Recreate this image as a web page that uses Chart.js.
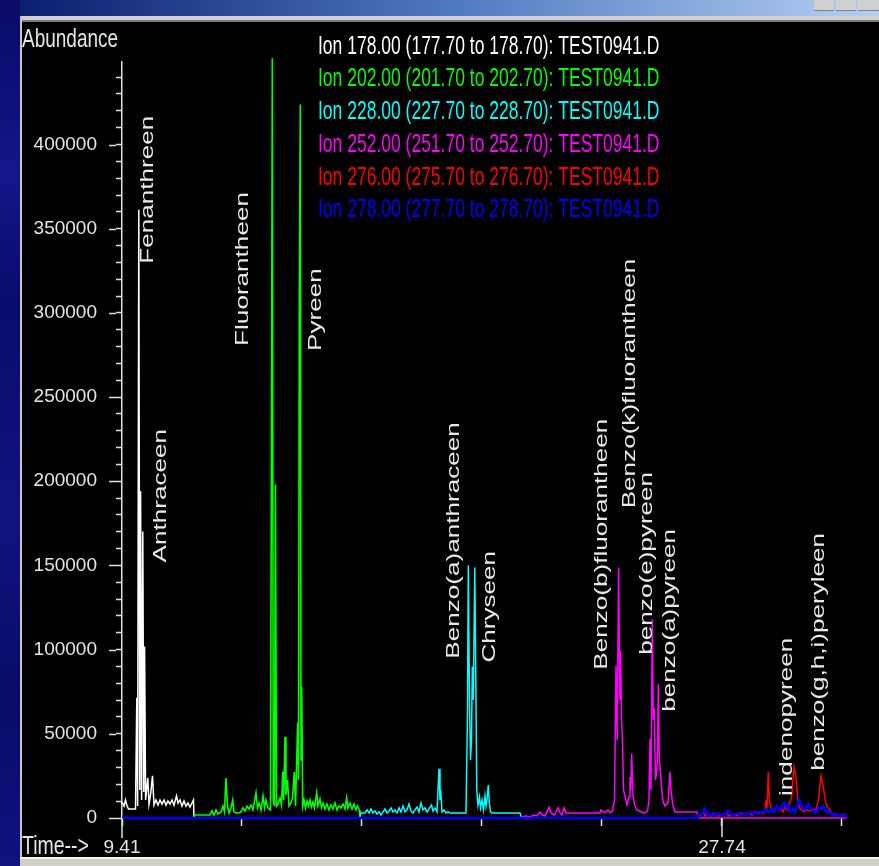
<!DOCTYPE html>
<html>
<head>
<meta charset="utf-8">
<title>TEST0941.D extracted ion chromatograms</title>
<script src="https://cdn.jsdelivr.net/npm/chart.js@4.4.1/dist/chart.umd.min.js"></script>
<style>
  html, body { margin: 0; padding: 0; background: #0c0c70; overflow: hidden; }
  canvas { display: block; }
</style>
</head>
<body>
<canvas id="tic" width="879" height="866"></canvas>
<script>
// Retention time (min) and abundance for each extracted ion
const ion178Time = [9.410, 9.471, 9.517, 9.563, 9.609, 9.822, 9.862, 9.887, 9.923, 9.954, 9.978, 10.009, 10.045, 10.076, 10.100, 10.131, 10.198, 10.235, 10.281, 10.342, 10.388, 10.449, 10.510, 10.571, 10.632, 10.693, 10.754, 10.815, 10.876, 10.938, 10.999, 11.075, 11.121, 11.182, 11.243, 11.304, 11.365, 11.426, 11.487, 11.548, 11.594, 11.610];
const ion178Abund = [9500, 7100, 10700, 7100, 5400, 5400, 71400, 7100, 361300, 16700, 194000, 10700, 170200, 15500, 101800, 10700, 23800, 8300, 13700, 25000, 7700, 10700, 7700, 10700, 8300, 10700, 7700, 10100, 8300, 10700, 7700, 13100, 8900, 10700, 7100, 10100, 7100, 8900, 6500, 8900, 10700, 0];

const ion202Time = [11.610, 11.625, 12.099, 12.160, 12.221, 12.282, 12.343, 12.435, 12.496, 12.541, 12.587, 12.633, 12.679, 12.740, 12.792, 12.832, 12.893, 12.985, 13.046, 13.107, 13.168, 13.229, 13.290, 13.351, 13.412, 13.504, 13.550, 13.595, 13.656, 13.718, 13.763, 13.809, 13.870, 13.932, 13.947, 13.977, 14.002, 14.032, 14.069, 14.099, 14.130, 14.176, 14.237, 14.283, 14.320, 14.350, 14.390, 14.420, 14.466, 14.512, 14.573, 14.619, 14.674, 14.711, 14.778, 14.802, 14.827, 14.857, 14.879, 14.900, 14.931, 14.970, 15.016, 15.062, 15.108, 15.154, 15.199, 15.245, 15.291, 15.358, 15.398, 15.459, 15.505, 15.551, 15.612, 15.673, 15.734, 15.795, 15.856, 15.917, 15.978, 16.039, 16.100, 16.161, 16.223, 16.274, 16.314, 16.376, 16.437, 16.498, 16.559, 16.605, 16.660, 16.681];
const ion202Abund = [0, 1800, 1800, 4200, 1800, 4800, 2400, 3600, 7100, 3600, 23800, 7100, 3000, 6000, 10700, 3600, 3000, 3000, 3600, 6000, 4200, 7100, 5400, 7700, 4800, 14900, 6000, 8900, 4800, 13100, 6000, 10700, 6000, 4800, 7100, 233900, 451200, 10700, 7100, 198200, 7100, 8300, 11900, 7700, 27400, 10700, 48200, 13700, 22600, 7100, 8900, 11900, 27400, 7100, 56500, 22600, 303000, 423800, 34500, 78000, 7100, 10700, 6000, 10100, 7100, 10700, 6500, 9500, 6000, 14900, 7100, 11300, 6000, 8900, 5400, 8300, 4800, 7700, 5400, 8900, 4800, 7100, 6000, 8300, 5400, 11900, 6000, 8900, 5400, 8300, 4800, 7100, 4800, 0];

const ion228Time = [16.681, 16.696, 16.834, 16.895, 16.956, 17.017, 17.078, 17.139, 17.200, 17.262, 17.323, 17.384, 17.445, 17.506, 17.567, 17.628, 17.689, 17.750, 17.812, 17.873, 17.934, 17.995, 18.056, 18.117, 18.178, 18.239, 18.300, 18.361, 18.423, 18.484, 18.545, 18.606, 18.667, 18.728, 18.789, 18.866, 18.911, 18.972, 19.034, 19.095, 19.125, 19.147, 19.186, 19.247, 19.309, 19.370, 19.431, 19.920, 19.965, 19.990, 20.026, 20.057, 20.088, 20.112, 20.143, 20.188, 20.219, 20.249, 20.286, 20.332, 20.363, 20.409, 20.454, 20.500, 20.531, 20.567, 20.601, 20.632, 20.668, 20.714, 21.569, 21.621];
const ion228Abund = [0, 3000, 3000, 4800, 3000, 5400, 3000, 4200, 2400, 3600, 1800, 3600, 5400, 3000, 4200, 6000, 3600, 4800, 3000, 6000, 3600, 7100, 3600, 4800, 8300, 4200, 3000, 4800, 6500, 3600, 8900, 4800, 6000, 3600, 5400, 7700, 4200, 6000, 3600, 29200, 10700, 16700, 3600, 4800, 3000, 3600, 3000, 3000, 61300, 150000, 70200, 34500, 46400, 89900, 70200, 148800, 83300, 16700, 7700, 12500, 6000, 10700, 4800, 13100, 7100, 11900, 19600, 8900, 3600, 3000, 3000, 0];

const ion252Time = [21.630, 21.752, 21.875, 21.997, 22.089, 22.181, 22.242, 22.333, 22.394, 22.456, 22.517, 22.608, 22.669, 22.731, 22.792, 22.853, 22.914, 22.975, 24.013, 24.044, 24.105, 24.197, 24.258, 24.319, 24.396, 24.457, 24.503, 24.539, 24.582, 24.619, 24.646, 24.671, 24.695, 24.732, 24.778, 24.839, 24.900, 24.930, 24.955, 24.982, 25.022, 25.083, 25.144, 25.266, 25.388, 25.465, 25.510, 25.541, 25.571, 25.611, 25.642, 25.669, 25.709, 25.739, 25.767, 25.794, 25.825, 25.861, 25.928, 25.999, 26.090, 26.151, 26.182, 26.203, 26.243, 26.304, 26.976, 27.007, 31.559];
const ion252Abund = [600, 1200, 600, 1800, 1200, 3600, 1800, 1200, 3600, 6500, 3000, 1800, 3600, 6000, 3000, 1800, 6000, 3000, 3000, 4800, 3600, 3600, 4800, 3000, 4200, 10700, 90500, 46400, 148800, 70200, 99400, 58300, 49400, 16700, 13100, 7700, 12500, 24400, 16700, 38100, 13100, 7100, 4800, 3600, 3000, 4200, 10700, 47000, 16700, 117900, 58300, 65500, 22600, 26800, 34500, 79800, 34500, 26800, 10700, 7100, 8900, 27400, 16700, 13100, 7700, 3600, 3600, 0, 0];

const ion276Time = [27.007, 27.022, 27.099, 27.160, 27.221, 27.312, 27.404, 27.526, 27.618, 27.740, 27.862, 27.954, 28.076, 28.198, 28.320, 28.443, 28.565, 28.657, 28.749, 28.840, 28.932, 28.993, 29.054, 29.084, 29.115, 29.155, 29.191, 29.237, 29.283, 29.359, 29.420, 29.482, 29.543, 29.604, 29.665, 29.726, 29.787, 29.870, 29.940, 30.001, 30.071, 30.123, 30.175, 30.246, 30.337, 30.429, 30.521, 30.612, 30.688, 30.765, 30.835, 30.908, 30.979, 31.040, 31.132, 31.223, 31.345, 31.468, 31.529, 31.559];
const ion276Abund = [0, 1200, 1800, 4200, 1200, 2400, 1200, 3000, 1200, 1800, 3000, 1200, 2400, 1200, 3000, 1800, 3000, 1800, 3600, 2400, 3600, 2400, 3600, 10700, 3600, 27400, 10700, 6000, 4800, 4800, 6500, 4200, 5400, 3600, 7100, 4800, 7700, 12500, 30400, 23800, 8900, 5400, 4800, 3600, 4800, 4200, 5400, 4800, 10700, 25000, 18500, 8900, 6000, 4800, 1800, 2400, 1800, 2400, 1800, 0];

const ion278Time = [9.410, 27.007, 27.022, 27.099, 27.160, 27.221, 27.282, 27.374, 27.465, 27.557, 27.649, 27.740, 27.862, 27.923, 27.984, 28.107, 28.229, 28.351, 28.473, 28.595, 28.717, 28.840, 28.962, 29.038, 29.105, 29.176, 29.267, 29.328, 29.411, 29.482, 29.543, 29.644, 29.696, 29.735, 29.787, 29.848, 29.909, 29.971, 30.032, 30.102, 30.154, 30.184, 30.246, 30.307, 30.377, 30.429, 30.521, 30.582, 30.643, 30.704, 30.765, 30.835, 30.887, 30.948, 31.040, 31.132, 31.223, 31.345, 31.468, 31.529, 31.559];
const ion278Abund = [0, 0, 1800, 2400, 3600, 5400, 2400, 1800, 3000, 1800, 2400, 1800, 3000, 4200, 2400, 1800, 3000, 1800, 2400, 3600, 2400, 3600, 3000, 4200, 5400, 3600, 4800, 3600, 7100, 4800, 6000, 8900, 6500, 7700, 4800, 3600, 5400, 3600, 7100, 10700, 7700, 6500, 4800, 6000, 8300, 6000, 4800, 3000, 4200, 6500, 5400, 7100, 4800, 3000, 3600, 2400, 1800, 1800, 1800, 1200, 0];

const ionLabels = [
  'Ion 178.00 (177.70 to 178.70): TEST0941.D',
  'Ion 202.00 (201.70 to 202.70): TEST0941.D',
  'Ion 228.00 (227.70 to 228.70): TEST0941.D',
  'Ion 252.00 (251.70 to 252.70): TEST0941.D',
  'Ion 276.00 (275.70 to 276.70): TEST0941.D',
  'Ion 278.00 (277.70 to 278.70): TEST0941.D'
];

// Axis ticks
const timeTicks = [9.41, 13.076, 16.742, 20.408, 24.074, 27.74, 31.406];
const timeTickLabels = ['9.41', '', '', '', '', '27.74', ''];
const abundanceTicks = [0, 50000, 100000, 150000, 200000, 250000, 300000, 350000, 400000];

// Peak identifications: name, retention time and the abundance where the label starts
const peakNames = ['Fenanthreen', 'Anthraceen', 'Fluorantheen', 'Pyreen', 'Benzo(a)anthraceen', 'Chryseen',
  'Benzo(b)fluorantheen', 'Benzo(k)fluorantheen', 'benzo(e)pyreen', 'benzo(a)pyreen', 'indenopyreen', 'benzo(g,h,i)peryleen'];
const peakTimes = [10.204, 10.601, 13.107, 15.337, 19.553, 20.653, 24.074, 24.930, 25.449, 26.152, 29.727, 30.704];
const peakLevels = [329200, 151800, 280400, 277400, 94600, 92300, 88100, 183900, 97000, 63100, 13100, 28000];

// ---- styling ----
const ionColors = ['#ffffff', '#00ff00', '#00ffff', '#ff00ff', '#ff0000', '#0000ff'];
const ionWidths = [1.5, 1.6, 1.5, 1.5, 1.5, 2.6];
const ionDrawOrder = [5, 4, 3, 2, 1, 0];   // 278 trace on top
const FONT = "'Liberation Sans', Arial, sans-serif";
const TEXT = '#e4e4e4';

const traces = [
  [ion178Time, ion178Abund], [ion202Time, ion202Abund], [ion228Time, ion228Abund],
  [ion252Time, ion252Abund], [ion276Time, ion276Abund], [ion278Time, ion278Abund]
];

const datasets = traces.map(([t, a], i) => ({
  label: ionLabels[i],
  data: t.slice(0, Math.min(t.length, a.length)).map((x, k) => ({ x, y: a[k] })),
  borderColor: ionColors[i],
  backgroundColor: ionColors[i],
  borderWidth: ionWidths[i],
  pointRadius: 0,
  tension: 0,
  fill: false,
  clip: false,
  order: ionDrawOrder[i],
  borderJoinStyle: 'miter'
}));

// Window frame around the data system plot
const windowFrame = {
  id: 'windowFrame',
  beforeDraw(chart) {
    const c = chart.ctx, W = chart.width, H = chart.height;
    c.save();
    const bg = c.createLinearGradient(0, 0, 40, H);
    bg.addColorStop(0, '#0a0a66');
    bg.addColorStop(0.2, '#15158a');
    bg.addColorStop(0.35, '#0b0b6c');
    bg.addColorStop(0.6, '#13137f');
    bg.addColorStop(0.8, '#0a0a68');
    bg.addColorStop(1, '#121280');
    c.fillStyle = bg;
    c.fillRect(0, 0, W, H);

    const tb = c.createLinearGradient(20, 0, W, 0);
    tb.addColorStop(0, '#0a1e6e');
    tb.addColorStop(0.5, '#4f78c0');
    tb.addColorStop(1, '#b4d0f2');
    c.fillStyle = tb;
    c.fillRect(20, 0, W - 20, 16);
    c.fillStyle = '#cfcfcf';
    c.fillRect(20, 16, W - 20, 4);
    c.fillStyle = '#7a7a7a';
    c.fillRect(20, 20, W - 20, 2);
    c.fillStyle = '#d0d0d0';
    [[814, 20], [836, 20], [858, 21]].forEach(([x, w]) => c.fillRect(x, 0, w, 11));
    c.fillStyle = '#808080';
    [[814, 20], [836, 20], [858, 21]].forEach(([x, w]) => c.fillRect(x, 10, w, 1));

    c.fillStyle = '#c6c6c6';
    c.fillRect(20, 16, 2, H - 16);
    c.fillStyle = '#000000';
    c.fillRect(22, 22, W - 22, 835);

    c.fillStyle = '#d4d0c8';
    c.fillRect(20, 857, W - 20, H - 857);
    c.fillStyle = '#f2f2f2';
    c.fillRect(20, 857, W - 20, 2);
    c.restore();
  }
};

// Minor tick extensions, axis captions, peak names and ion list
const annotations = {
  id: 'annotations',
  afterDraw(chart) {
    const c = chart.ctx, xs = chart.scales.x, ys = chart.scales.y, area = chart.chartArea;
    c.save();
    c.strokeStyle = '#e0e0e0';
    c.lineWidth = 1.5;
    c.beginPath();
    abundanceTicks.forEach(v => {
      const y = Math.round(ys.getPixelForValue(v)) + 0.5;
      c.moveTo(area.left - 13, y);
      c.lineTo(area.left - 6, y);
    });
    c.moveTo(area.left, area.bottom);
    c.lineTo(area.left, area.bottom + 20);
    const xl = xs.getPixelForValue(timeTicks[5]);
    c.moveTo(xl, area.bottom);
    c.lineTo(xl, area.bottom + 19);
    c.stroke();

    c.fillStyle = TEXT;
    c.textBaseline = 'middle';
    c.textAlign = 'left';
    c.save();
    c.translate(22, 40);
    c.scale(1, 1.35);
    c.font = '19px ' + FONT;
    c.fillText('Abundance', 0, 0);
    c.restore();
    c.save();
    c.translate(22, 847);
    c.scale(1, 1.35);
    c.font = '19.5px ' + FONT;
    c.fillText('Time-->', 0, 0);
    c.restore();

    c.font = '18px ' + FONT;
    peakNames.forEach((name, i) => {
      c.save();
      c.translate(xs.getPixelForValue(peakTimes[i]), ys.getPixelForValue(peakLevels[i]));
      c.rotate(-Math.PI / 2);
      c.scale(1.45, 1);
      c.fillStyle = '#e8e8e8';
      c.fillText(name, 0, 0);
      c.restore();
    });

    c.font = '17.5px ' + FONT;
    chart.data.datasets.forEach((ds, i) => {
      c.save();
      c.translate(318, 46.7 + i * 32.7);
      c.scale(1, 1.45);
      c.fillStyle = ds.borderColor;
      c.fillText(ds.label, 0, 0);
      c.restore();
    });
    c.restore();
  }
};

new Chart(document.getElementById('tic'), {
  type: 'line',
  data: { datasets },
  options: {
    responsive: false,
    animation: false,
    events: [],
    layout: { padding: { left: 12, top: 62, right: 32, bottom: 0 } },
    plugins: { legend: { display: false }, tooltip: { enabled: false } },
    scales: {
      x: {
        type: 'linear',
        min: 9.41,
        max: 31.56,
        afterBuildTicks: s => { s.ticks = timeTicks.map(v => ({ value: v })); },
        afterFit: s => { s.height = 48; },
        border: { display: false },
        grid: { drawOnChartArea: false, tickLength: 8, tickWidth: 1.5, tickColor: '#e0e0e0' },
        ticks: {
          autoSkip: false, maxRotation: 0, minRotation: 0, padding: 10,
          color: TEXT, font: { family: FONT, size: 19 },
          callback: (v, i) => timeTickLabels[i] ?? ''
        }
      },
      y: {
        type: 'linear',
        min: 0,
        max: 449000,
        afterBuildTicks: s => {
          const t = [];
          for (let v = 0; v <= 440000; v += 10000) t.push({ value: v });
          s.ticks = t;
        },
        afterFit: s => { s.width = 110; },
        border: { display: true, color: '#e0e0e0', width: 1.5 },
        grid: { drawOnChartArea: false, tickLength: 6, tickWidth: 1.5, tickColor: '#e0e0e0' },
        ticks: {
          autoSkip: false, padding: 19,
          color: TEXT, font: { family: FONT, size: 19 },
          callback: v => abundanceTicks.includes(v) ? String(v) : ''
        }
      }
    }
  },
  plugins: [windowFrame, annotations]
});
</script>
</body>
</html>
